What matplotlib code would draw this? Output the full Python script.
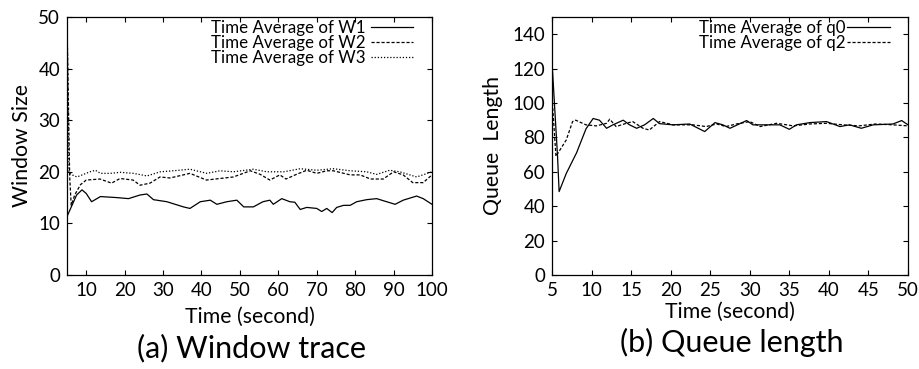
import matplotlib
matplotlib.use("Agg")
import matplotlib.pyplot as plt

plt.rcParams['font.family'] = ['Lato', 'DejaVu Sans']

# (a) window trace: time (s) and window size
w1_t = [5.1, 6.0, 7.5, 8.9, 10.0, 11.4, 13.7, 18.0, 21.0, 24.0, 25.8, 27.5, 31.0, 35.3, 37.0,
        39.7, 42.3, 44.0, 46.6, 49.2, 51.0, 53.5, 56.0, 57.8, 58.7, 60.9, 63.0, 64.3, 65.7,
        67.4, 70.0, 71.3, 72.6, 74.0, 75.2, 77.0, 78.7, 80.4, 83.0, 85.6, 88.2, 90.4, 92.5,
        96.0, 97.7, 100.0]
w1 = [11.5, 13.0, 15.5, 16.5, 15.8, 14.2, 15.2, 15.0, 14.8, 15.5, 15.7, 14.6, 14.2, 13.2, 12.9,
      14.2, 14.5, 13.7, 14.2, 14.5, 13.2, 13.2, 14.2, 14.5, 13.7, 14.8, 14.2, 14.1, 12.7,
      13.1, 12.9, 12.3, 12.9, 12.1, 13.1, 13.5, 13.5, 14.2, 14.6, 14.8, 14.2, 13.7, 14.5,
      15.3, 14.8, 13.7]

w2_t = [5.05, 5.7, 6.1, 7.0, 8.5, 10.0, 13.6, 16.6, 18.8, 22.2, 24.0, 26.6, 29.2, 31.8, 37.0,
        41.3, 48.3, 52.7, 55.3, 57.8, 60.4, 62.0, 64.7, 67.4, 70.0, 72.6, 74.3, 78.7, 81.3,
        84.0, 87.3, 90.0, 92.5, 95.0, 97.7, 100.0]
w2 = [47.0, 19.0, 13.5, 15.5, 17.5, 18.4, 18.6, 17.8, 18.7, 18.4, 17.4, 17.8, 19.0, 18.8, 19.7,
      18.4, 19.0, 20.2, 19.5, 18.4, 19.4, 18.6, 19.5, 20.3, 19.7, 20.2, 20.2, 19.4, 19.4,
      18.6, 18.6, 20.0, 19.4, 17.9, 17.9, 19.4]

w3_t = [5.05, 5.5, 6.0, 7.6, 11.0, 12.4, 13.7, 16.3, 18.9, 22.3, 25.8, 29.3, 32.7, 37.0, 41.4,
        44.8, 48.3, 53.5, 57.0, 61.4, 65.7, 70.0, 74.3, 78.7, 83.0, 85.6, 89.0, 91.6, 96.0,
        100.0]
w3 = [47.5, 20.0, 19.5, 19.0, 20.0, 20.3, 19.7, 19.7, 19.9, 19.7, 19.2, 20.0, 20.2, 20.5, 19.7,
      20.2, 20.0, 20.5, 20.0, 20.0, 20.6, 20.3, 20.6, 20.2, 20.0, 19.5, 20.3, 20.0, 19.0,
      20.0]

# (b) queue length
q0_t = [5.05, 5.7, 5.9, 6.8, 8.1, 9.3, 10.2, 11.0, 11.9, 12.7, 14.0, 14.8, 15.7, 16.7, 17.8,
        18.6, 20.3, 22.4, 24.3, 25.6, 26.6, 27.5, 29.6, 30.4, 32.1, 33.8, 35.0, 35.9, 37.6,
        39.7, 41.4, 42.6, 44.1, 45.6, 48.1, 49.2, 50.0]
q0 = [120, 69, 48.5, 59, 71, 85, 91, 90, 85.3, 87.3, 90, 87.3, 85.3, 87.3, 91,
      88, 87.3, 87.8, 83.4, 88.6, 87.3, 85.3, 89.8, 87.3, 87.3, 87.3, 84.7, 87.3, 88.6,
      89.2, 86.3, 87.3, 85.3, 87.3, 87.8, 89.8, 87.3]

q2_t = [5.05, 5.5, 6.8, 7.6, 8.0, 9.3, 10.6, 11.9, 12.3, 13.1, 14.4, 15.2, 16.5, 17.3, 18.6,
        20.3, 22.8, 24.5, 25.8, 27.0, 28.3, 30.0, 31.3, 33.4, 35.5, 37.6, 39.7, 41.8, 43.8,
        45.9, 48.1, 50.0]
q2 = [100, 69, 78.5, 89.2, 90, 87.3, 86.7, 88.2, 90.6, 86.3, 88.2, 89.2, 85.3, 84.3, 89.2,
      87.3, 87.3, 86.3, 87.8, 86.3, 87.8, 89.2, 86.3, 88.2, 86.7, 87.8, 88.2, 87.3, 86.7,
      87.8, 87.3, 86.7]

W = 920
H = 369
fig = plt.figure(figsize=(W / 100, H / 100), dpi=100)

ax1 = fig.add_axes([67 / W, 1 - 275 / H, 365 / W, 258 / H])
ax2 = fig.add_axes([552 / W, 1 - 275 / H, 356 / W, 258 / H])

lw = 0.9
dash = (0, (2.5, 1.5))
dot = (0, (1, 1.5))

ax1.plot(w1_t, w1, color='black', lw=lw, label='Time Average of W1')
ax1.plot(w2_t, w2, color='black', lw=lw, ls=dash, label='Time Average of W2')
ax1.plot(w3_t, w3, color='black', lw=lw, ls=dot, label='Time Average of W3')
ax1.set_xlim(5, 100)
ax1.set_ylim(0, 50)
ax1.set_xticks(range(10, 101, 10))
ax1.set_yticks(range(0, 51, 10))

ax2.plot(q0_t, q0, color='black', lw=lw, label='Time Average of q0')
ax2.plot(q2_t, q2, color='black', lw=lw, ls=dash, label='Time Average of q2')
ax2.set_xlim(5, 50)
ax2.set_ylim(0, 150)
ax2.set_xticks(range(5, 51, 5))
ax2.set_yticks(range(0, 141, 20))

for ax in (ax1, ax2):
    ax.tick_params(direction='in', top=True, right=True, length=3.8, width=0.8,
                   labelsize=13.5, pad=5)
    for s in ax.spines.values():
        s.set_linewidth(0.9)

ax1.legend(loc='upper right', bbox_to_anchor=(0.948, 0.99), frameon=False,
           markerfirst=False, fontsize=12.2, handlelength=2.5, handletextpad=0.3,
           labelspacing=-0.05, borderpad=0, borderaxespad=0)
ax2.legend(loc='upper right', bbox_to_anchor=(0.949, 0.99), frameon=False,
           markerfirst=False, fontsize=12.2, handlelength=2.5, handletextpad=0.1,
           labelspacing=-0.05, borderpad=0, borderaxespad=0)

ax1.set_xlabel('Time (second)', fontsize=15.3)
ax1.set_ylabel('Window Size', fontsize=15.3)
ax1.xaxis.set_label_coords(0.5, -0.163)
ax1.yaxis.set_label_coords(-0.123, 0.5)
ax2.set_xlabel('Time (second)', fontsize=15.3)
ax2.set_ylabel('Queue  Length', fontsize=15.3)
ax2.xaxis.set_label_coords(0.5, -0.143)
ax2.yaxis.set_label_coords(-0.166, 0.5)
for ax in (ax1, ax2):
    ax.xaxis.label.set_va('center')
    ax.yaxis.label.set_va('center')

fig.text(252 / W, 1 - 348 / H, '(a) Window trace', fontsize=22, ha='center', va='center')
fig.text(732 / W, 1 - 342 / H, '(b) Queue length', fontsize=22, ha='center', va='center')

fig.savefig('out.png', dpi=100)
